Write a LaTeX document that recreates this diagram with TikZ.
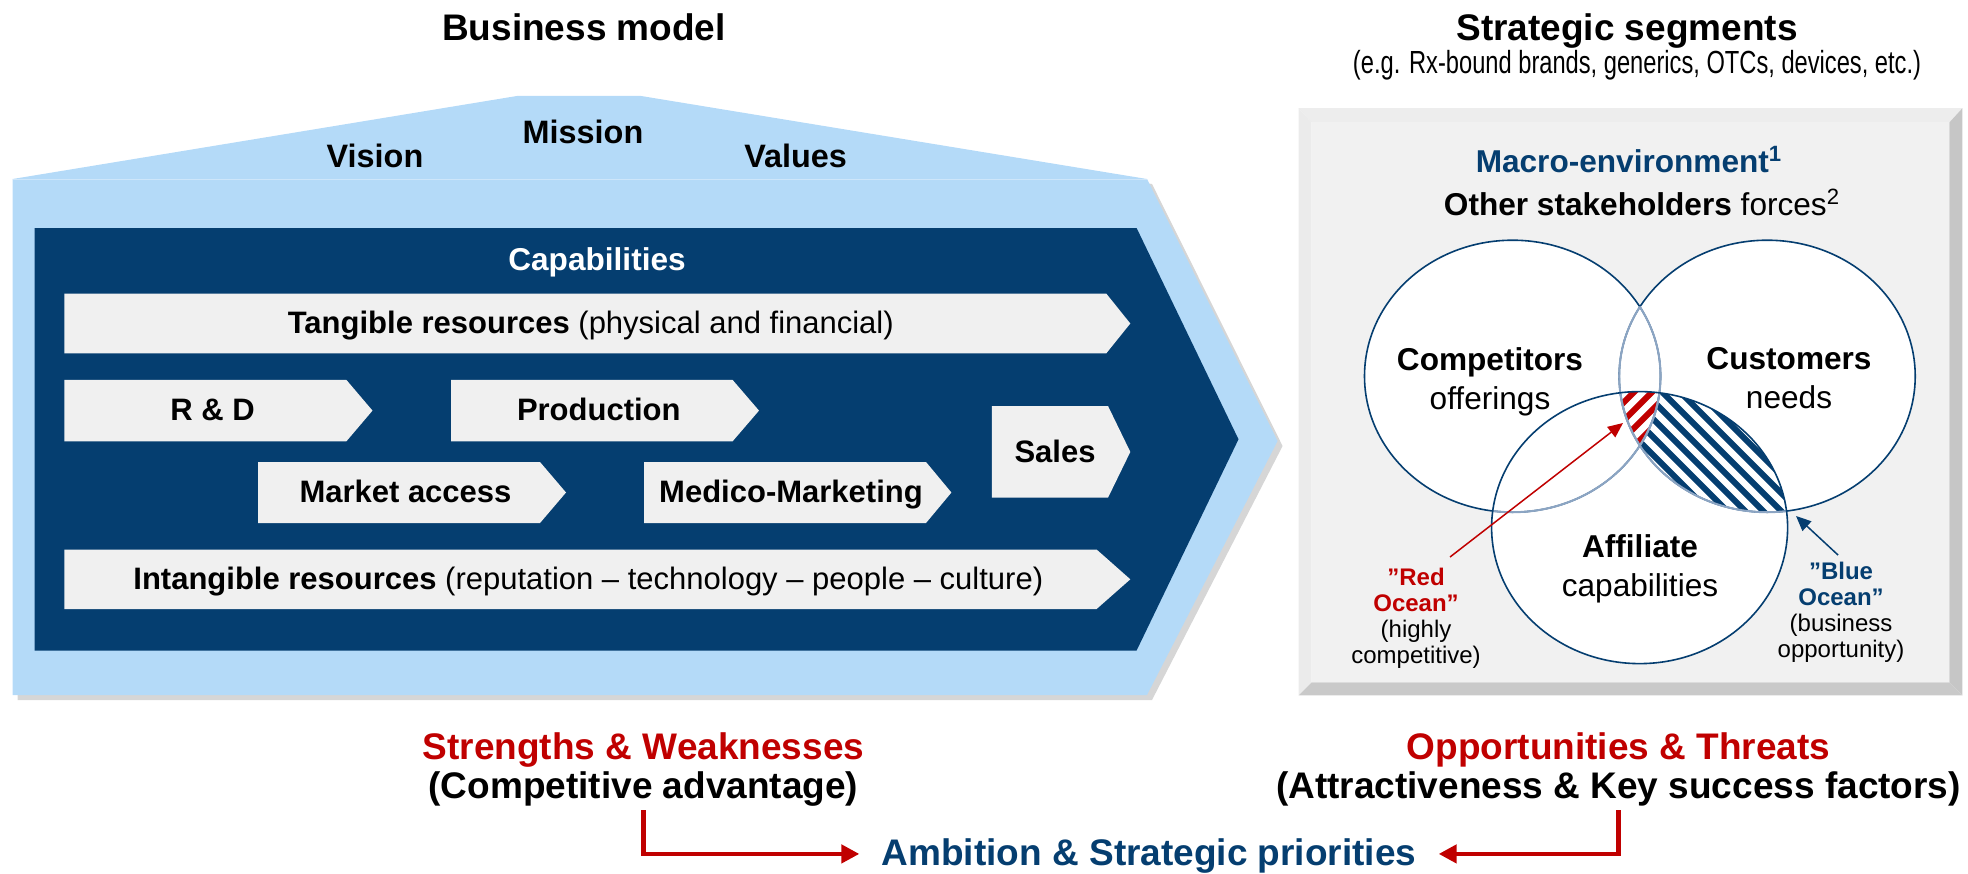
\documentclass[tikz,border=0pt]{standalone}
\usepackage{fontspec}
\setmainfont{Liberation Sans}
\newfontfamily\narrowfont{Liberation Sans}[FakeStretch=0.74]
\usetikzlibrary{arrows.meta}

\definecolor{skyblue}{RGB}{180,218,248}
\definecolor{deepblue}{RGB}{5,62,112}
\definecolor{bargray}{RGB}{240,240,240}
\definecolor{panelgray}{RGB}{241,241,241}
\definecolor{darkred}{RGB}{192,0,0}
\definecolor{shadowgray}{RGB}{214,214,214}
\definecolor{arcblue}{RGB}{140,165,195}

\begin{document}
\begin{tikzpicture}[x=0.5pt,y=0.5pt,yscale=-1,xscale=1,
  bar/.style={fill=bargray},
  head/.style={anchor=base,inner sep=0pt,font=\fontsize{18.5}{22}\selectfont\bfseries},
  roof/.style={anchor=base,inner sep=0pt,font=\fontsize{16.2}{19}\selectfont\bfseries},
  lbl/.style={anchor=base,inner sep=0pt,font=\fontsize{15.5}{18}\selectfont},
  venn/.style={anchor=north,inner sep=0pt,align=center,font=\fontsize{15.8}{19.5}\selectfont},
  ocean/.style={anchor=north,inner sep=0pt,align=center,font=\fontsize{12}{13}\selectfont},
  ring/.style={draw=deepblue,line width=0.8pt},
  faded/.style={draw=arcblue,line width=1pt},
  stripe/.style={line width=3pt},
  pointer/.style={line width=0.75pt,-{Triangle[length=7.5pt,width=6.5pt]}},
  bigarrow/.style={draw=darkred,line width=2.2pt,-{Triangle[length=9pt,width=9pt]}}]
\useasboundingbox (0,0) rectangle (1968,873);

% Text Node
\node[head] (bmtitle) at (584,40) {Business model};
% Text Node
\node[head] (sstitle) at (1627,40) {Strategic segments};
% Text Node
\node[anchor=base,inner sep=0pt,font=\narrowfont\fontsize{16}{19}\selectfont] (sssub) at (1637,73) {(e.g. Rx-bound brands, generics, OTCs, devices, etc.)};

%Shape: Polygon [house shadow]
\fill[shadowgray] (17.6,184) -- (523,100.8) -- (645,100.8) -- (1152,184) -- (1282.6,446) -- (1152,700) -- (17.6,700) -- cycle;
%Shape: Polygon [house]
\fill[skyblue] (12.6,179) -- (518,95.8) -- (640,95.8) -- (1147,179) -- (1277.6,441) -- (1147,695) -- (12.6,695) -- cycle;
\draw[white,opacity=0.35] (12.6,179) -- (1147,179);
%Shape: Chevron
\fill[deepblue] (34.5,228) -- (1136.6,228) -- (1238.5,439.3) -- (1136.6,650.5) -- (34.5,650.5) -- cycle;

%Shape: Arrow bars
\fill[bar] (64.4,293.6) -- (1106.3,293.6) -- (1130.3,323.5) -- (1106.3,353.3) -- (64.4,353.3) -- cycle;
\fill[bar] (64.4,379.9) -- (346.4,379.9) -- (372.5,410.6) -- (346.4,441.3) -- (64.4,441.3) -- cycle;
\fill[bar] (451.2,379.9) -- (732.6,379.9) -- (759,410.6) -- (732.6,441.3) -- (451.2,441.3) -- cycle;
\fill[bar] (258,462) -- (540,462) -- (566,492.5) -- (540,523) -- (258,523) -- cycle;
\fill[bar] (644,462) -- (926,462) -- (951.4,492.5) -- (926,523) -- (644,523) -- cycle;
\fill[bar] (991.9,406) -- (1108,406) -- (1130.3,451.9) -- (1108,497.7) -- (991.9,497.7) -- cycle;
\fill[bar] (64.4,549.5) -- (1096.6,549.5) -- (1130.3,579.3) -- (1096.6,609) -- (64.4,609) -- cycle;

% Text Node
\node[roof] (vision) at (375,167) {Vision};
\node[roof] (mission) at (583,143) {Mission};
\node[roof] (values) at (795.6,167) {Values};
% Text Node
\node[lbl,text=white,font=\fontsize{15.8}{18}\selectfont\bfseries] (capab) at (597,270) {Capabilities};
% Text Node
\node[lbl] (tangible) at (590.8,333.5) {\textbf{Tangible resources} (physical and financial)};
\node[lbl] (rnd) at (212.5,420.7) {\textbf{R \& D}};
\node[lbl] (production) at (598.8,420.7) {\textbf{Production}};
\node[lbl] (market) at (405.5,502.8) {\textbf{Market access}};
\node[lbl] (medico) at (791,502.8) {\textbf{Medico-Marketing}};
\node[lbl] (sales) at (1055,462) {\textbf{Sales}};
\node[lbl] (intangible) at (588.3,589.5) {\textbf{Intangible resources} (reputation – technology – people – culture)};

%Shape: Bevelled panel
\fill[gray!14] (1298.6,108.2) -- (1962.4,108.2) -- (1949.4,122.4) -- (1311.6,122.4) -- cycle;
\fill[gray!16] (1298.6,108.2) -- (1311.6,122.4) -- (1311.6,682.4) -- (1298.6,695.4) -- cycle;
\fill[gray!45] (1962.4,108.2) -- (1962.4,695.4) -- (1949.4,682.4) -- (1949.4,122.4) -- cycle;
\fill[gray!42] (1298.6,695.4) -- (1962.4,695.4) -- (1949.4,682.4) -- (1311.6,682.4) -- cycle;
\fill[panelgray] (1311.6,122.4) rectangle (1949.4,682.4);

% Text Node
\node[lbl,text=deepblue,font=\fontsize{15.8}{18}\selectfont\bfseries] (macro) at (1629,172) {Macro-environment\textsuperscript{1}};
\node[lbl,font=\fontsize{15.8}{18}\selectfont] (others) at (1642,215) {\textbf{Other stakeholders} forces\textsuperscript{2}};

%Shape: Ellipses
\fill[white] (1512.5,376.2) ellipse [x radius=148, y radius=136];
\fill[white] (1767.2,376.2) ellipse [x radius=148, y radius=136];
\fill[white] (1639.6,527.6) ellipse [x radius=148, y radius=136];
% blue ocean hatching
\begin{scope}
  \clip (1767.2,376.2) ellipse [x radius=148, y radius=136];
  \clip (1639.6,527.6) ellipse [x radius=148, y radius=136];
  \foreach \c in {1390,1408,...,1720}
    \draw[stripe,deepblue] (\c,300) -- (\c+400,700);
  % red ocean hatching
  \clip (1512.5,376.2) ellipse [x radius=148, y radius=136];
  \fill[white] (1500,350) rectangle (1700,500);
  \foreach \c in {1290,1308,...,1440}
    \draw[stripe,darkred] (\c,700) -- (\c+400,300);
\end{scope}
% outlines
\draw[ring] (1512.5,376.2) ellipse [x radius=148, y radius=136];
\draw[ring] (1767.2,376.2) ellipse [x radius=148, y radius=136];
\begin{scope}
  \clip (1767.2,376.2) ellipse [x radius=148, y radius=136];
  \draw[faded] (1512.5,376.2) ellipse [x radius=148, y radius=136];
\end{scope}
\begin{scope}
  \clip (1512.5,376.2) ellipse [x radius=148, y radius=136];
  \draw[faded] (1767.2,376.2) ellipse [x radius=148, y radius=136];
\end{scope}
\begin{scope}
  \clip (1639.6,527.6) ellipse [x radius=148, y radius=136];
  \draw[faded] (1512.5,376.2) ellipse [x radius=148, y radius=136];
  \draw[faded] (1767.2,376.2) ellipse [x radius=148, y radius=136];
\end{scope}
\draw[ring] (1639.6,527.6) ellipse [x radius=148, y radius=136];

% Text Node
\node[venn] (compet) at (1490,347) {\textbf{Competitors}\\offerings};
\node[venn] (custom) at (1789,347) {\textbf{Customers}\\needs};
\node[venn] (affil) at (1640,534) {\textbf{Affiliate}\\capabilities};
% Text Node
\node[ocean] (redocean) at (1416,568) {\textcolor{darkred}{\textbf{”Red}}\\\textcolor{darkred}{\textbf{Ocean”}}\\(highly\\competitive)};
\node[ocean] (blueocean) at (1841,562) {\textcolor{deepblue}{\textbf{”Blue}}\\\textcolor{deepblue}{\textbf{Ocean”}}\\(business\\opportunity)};
\coordinate (redtip) at (1623,423);
\coordinate (bluetip) at (1796,516);
%Straight Lines
\draw[pointer,darkred] ([shift={(34,-11)}]redocean.north) -- (redtip);
\draw[pointer,deepblue] ([shift={(-3,-7)}]blueocean.north) -- (bluetip);

% Text Node
\node[head,text=darkred] (strength) at (643.5,759) {Strengths \& Weaknesses};
\node[head] (compadv) at (643.5,798) {(Competitive advantage)};
\node[head,text=darkred] (opport) at (1618.5,759) {Opportunities \& Threats};
\node[head] (attract) at (1618.5,798) {(Attractiveness \& Key success factors)};
\node[head,text=deepblue] (ambition) at (1149,865) {Ambition \& Strategic priorities};
%Straight Lines
\draw[bigarrow,shorten <=2pt] (compadv.south) |- ([xshift=-11pt,yshift=-0.8pt]ambition.west);
\draw[bigarrow,shorten <=2pt] (attract.south) |- ([xshift=11pt,yshift=-0.8pt]ambition.east);
\end{tikzpicture}
\end{document}
